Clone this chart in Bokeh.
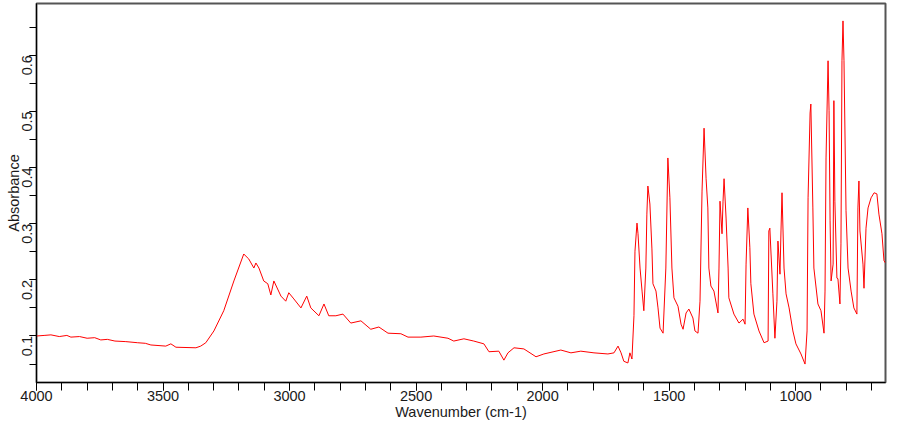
from bokeh.plotting import figure
from bokeh.models import Range1d, FixedTicker
from bokeh.embed import file_html
from bokeh.resources import INLINE
import math

# ---- data ----
wavenumber = [4000, 3970, 3943, 3910, 3880, 3864, 3830, 3800, 3770, 3746, 3720, 3690, 3647, 3600, 3570, 3548,
              3489, 3469, 3449, 3370, 3351, 3331, 3299, 3260, 3220,
              3181, 3161, 3141, 3133, 3121, 3102, 3086, 3074, 3062, 3034, 3015, 3003, 2983, 2955, 2932,
              2916, 2884, 2864, 2845, 2817, 2789, 2758, 2718, 2679, 2647, 2611, 2560, 2532, 2481, 2430,
              2374, 2351, 2311, 2272, 2232, 2212, 2173, 2153, 2137, 2113, 2074, 2026, 1995, 1928, 1888,
              1849, 1797, 1742, 1718, 1702, 1690, 1679, 1663, 1655, 1647, 1639, 1635, 1627, 1623, 1615,
              1607, 1600, 1592, 1588, 1584, 1576, 1568, 1564, 1552, 1544, 1536, 1524, 1513, 1505, 1497,
              1489, 1481, 1465, 1453, 1445, 1433, 1422, 1406, 1398, 1386, 1378, 1370, 1362, 1354, 1347,
              1343, 1335, 1323, 1307, 1303, 1299, 1291, 1287, 1283, 1275, 1267, 1264, 1244, 1224, 1208,
              1200, 1196, 1189, 1181, 1177, 1165, 1145, 1125, 1109, 1106, 1102, 1090, 1082, 1074, 1070,
              1062, 1058, 1054, 1046, 1038, 1026, 1011, 999, 979, 963, 955, 951, 943, 940, 932,
              928, 912, 900, 888, 884, 880, 872, 868, 864, 860, 852, 849, 845, 837, 833,
              825, 821, 817, 813, 809, 801, 793, 781, 770, 758, 754, 750, 746, 734, 730,
              722, 714, 702, 690, 679, 671, 659, 651, 645]
absorbance = [0.100, 0.101, 0.102, 0.099, 0.101, 0.098, 0.099, 0.096, 0.097, 0.093, 0.094, 0.091, 0.090, 0.088, 0.087, 0.084,
              0.082, 0.086, 0.080, 0.079, 0.082, 0.088, 0.109, 0.145, 0.198,
              0.246, 0.237, 0.221, 0.230, 0.221, 0.198, 0.193, 0.173, 0.198, 0.171, 0.162, 0.177, 0.166, 0.150, 0.171,
              0.150, 0.136, 0.157, 0.136, 0.136, 0.139, 0.123, 0.127, 0.112, 0.116, 0.105, 0.104, 0.098, 0.098, 0.100,
              0.096, 0.091, 0.095, 0.091, 0.086, 0.072, 0.073, 0.057, 0.070, 0.079, 0.077, 0.063, 0.068, 0.075, 0.070,
              0.073, 0.070, 0.068, 0.070, 0.082, 0.070, 0.055, 0.052, 0.070, 0.059, 0.136, 0.251, 0.301, 0.282, 0.221,
              0.180, 0.145, 0.221, 0.317, 0.367, 0.335, 0.255, 0.193, 0.180, 0.150, 0.114, 0.105, 0.221, 0.417, 0.346,
              0.221, 0.168, 0.153, 0.121, 0.112, 0.141, 0.148, 0.132, 0.109, 0.105, 0.162, 0.358, 0.470, 0.380, 0.328,
              0.221, 0.189, 0.180, 0.141, 0.221, 0.340, 0.282, 0.340, 0.380, 0.310, 0.221, 0.168, 0.139, 0.123, 0.130,
              0.121, 0.228, 0.328, 0.257, 0.193, 0.139, 0.109, 0.088, 0.091, 0.287, 0.292, 0.175, 0.096, 0.162, 0.269,
              0.210, 0.287, 0.355, 0.221, 0.175, 0.150, 0.109, 0.086, 0.068, 0.050, 0.109, 0.346, 0.497, 0.513, 0.328,
              0.221, 0.157, 0.145, 0.105, 0.180, 0.417, 0.590, 0.501, 0.305, 0.198, 0.228, 0.519, 0.340, 0.203, 0.202,
              0.157, 0.264, 0.590, 0.661, 0.590, 0.323, 0.221, 0.180, 0.150, 0.139, 0.328, 0.376, 0.287, 0.228, 0.185,
              0.292, 0.328, 0.346, 0.355, 0.353, 0.317, 0.282, 0.234, 0.230]

x_major = [4000, 3500, 3000, 2500, 2000, 1500, 1000]
x_minor = list(range(700, 4001, 100))
y_major = [0.1, 0.2, 0.3, 0.4, 0.5, 0.6]
y_minor = [0.05, 0.1, 0.15, 0.2, 0.25, 0.3, 0.35, 0.4, 0.45, 0.5, 0.55, 0.6, 0.65]

FONT = "Liberation Sans"
FS = "14.5px"

p = figure(width=900, height=425, output_backend="svg", toolbar_location=None,
           x_range=Range1d(4000, 645), y_range=Range1d(0.0172, 0.692),
           min_border_left=36, min_border_right=15, min_border_top=3, min_border_bottom=43)

p.line(wavenumber, absorbance, line_color="#ff0000", line_width=1)

p.xgrid.visible = False
p.ygrid.visible = False
p.outline_line_color = "#555555"
p.outline_line_width = 2
p.background_fill_color = "white"
p.border_fill_color = "white"

xa = p.xaxis[0]
xa.ticker = FixedTicker(ticks=x_major, minor_ticks=x_minor)
xa.axis_label = "Wavenumber (cm-1)"
ya = p.yaxis[0]
ya.ticker = FixedTicker(ticks=y_major, minor_ticks=y_minor)
ya.axis_label = "Absorbance"
ya.major_label_orientation = math.pi / 2

for ax in (xa, ya):
    ax.axis_line_color = "black"
    ax.axis_line_width = 1
    ax.major_tick_line_color = "black"
    ax.minor_tick_line_color = "black"
    ax.major_tick_in = 0
    ax.minor_tick_in = 0
    ax.major_label_text_font = FONT
    ax.major_label_text_font_size = FS
    ax.major_label_text_color = "#1a1a1a"
    ax.axis_label_text_font = FONT
    ax.axis_label_text_font_size = FS
    ax.axis_label_text_font_style = "normal"
    ax.axis_label_text_color = "#1a1a1a"

xa.major_tick_out = 8
xa.minor_tick_out = 8
xa.major_label_standoff = 0
xa.axis_label_standoff = 0
ya.major_tick_out = 7
ya.minor_tick_out = 7
ya.major_label_standoff = 2
ya.axis_label_standoff = -7

open("out.html", "w").write(file_html(p, INLINE))
